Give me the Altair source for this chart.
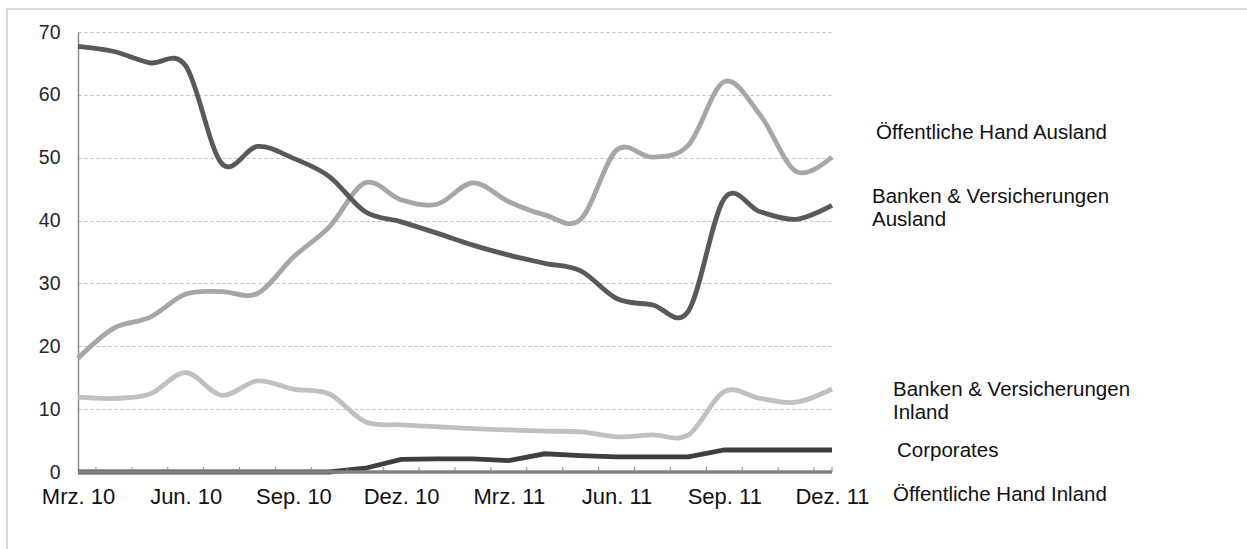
import altair as alt
import pandas as pd

# ---- data ----
months = ["Mrz. 10", "Apr. 10", "Mai. 10", "Jun. 10", "Jul. 10", "Aug. 10", "Sep. 10",
          "Okt. 10", "Nov. 10", "Dez. 10", "Jan. 11", "Feb. 11", "Mrz. 11", "Apr. 11",
          "Mai. 11", "Jun. 11", "Jul. 11", "Aug. 11", "Sep. 11", "Okt. 11", "Nov. 11", "Dez. 11"]

oeff_ausland = [18.1, 22.9, 24.6, 28.3, 28.7, 28.4, 34.2, 39.0, 46.0, 43.3, 42.6,
                46.0, 43.0, 40.9, 40.2, 51.2, 50.1, 52.0, 62.1, 56.8, 47.8, 50.1]
banken_ausland = [67.7, 66.9, 65.1, 64.6, 49.1, 51.8, 49.9, 47.0, 41.4, 39.8, 38.0,
                  36.1, 34.5, 33.2, 32.0, 27.6, 26.6, 25.6, 43.5, 41.4, 40.2, 42.4]
banken_inland = [11.9, 11.7, 12.4, 15.8, 12.2, 14.5, 13.2, 12.4, 8.0, 7.5, 7.2,
                 6.9, 6.7, 6.5, 6.4, 5.6, 5.9, 5.9, 12.8, 11.7, 11.1, 13.2]
corporates = [0, 0, 0, 0, 0, 0, 0, 0, 0.6, 2.0, 2.1,
              2.1, 1.8, 2.9, 2.6, 2.4, 2.4, 2.4, 3.5, 3.5, 3.5, 3.5]
oeff_inland = [0, 0, 0, 0, 0, 0, 0, 0, 0, 0, 0,
               0, 0, 0, 0, 0, 0, 0, 0, 0, 0, 0]

x_label_values = [0, 3, 6, 9, 12, 15, 18, 21]
y_tick_values = [0, 10, 20, 30, 40, 50, 60, 70]
minor_ticks = [0.5, 1.5, 2.5, 3.5, 4.5, 5.5, 6.5, 7.5, 8.5, 9.5, 10.5,
               11.5, 12.5, 13.5, 14.5, 15.5, 16.5, 17.5, 18.5, 19.5, 20.5, 21]

FONT = "Liberation Sans"
W, H = 754, 440

month_js = "[" + ",".join("'" + m + "'" for m in months) + "]"

X = alt.X("m:Q",
          scale=alt.Scale(domain=[0, 21], nice=False, zero=False),
          axis=alt.Axis(values=x_label_values, labelExpr=month_js + "[round(datum.value)]",
                        grid=False, domain=False, ticks=False, labelPadding=14,
                        labelFontSize=22, labelColor="#111111", labelFont=FONT,
                        labelFlush=False, title=None))
Y = alt.Y("v:Q",
          scale=alt.Scale(domain=[0, 70], nice=False),
          axis=alt.Axis(values=y_tick_values, grid=True, gridDash=[3, 3], gridColor="#bdbdbd",
                        gridWidth=1, domain=True, domainColor="#8c8c8c", domainWidth=1.5,
                        ticks=False, labelPadding=18, labelFontSize=19.5, labelColor="#262626",
                        labelFont=FONT, title=None))


def line_layer(values, color, width, interp):
    df = pd.DataFrame({"m": list(range(len(values))), "v": values})
    return alt.Chart(df).mark_line(color=color, strokeWidth=width, interpolate=interp).encode(x=X, y=Y)


one = pd.DataFrame({"a": [0]})

border = alt.Chart(one).mark_rect(fillOpacity=0, stroke="#d9d9d9", strokeWidth=2).encode(
    x=alt.value(-71), x2=alt.value(1182), y=alt.value(-23), y2=alt.value(530))

ticks = alt.Chart(pd.DataFrame({"m": minor_ticks})).mark_rule(color="#8c8c8c", strokeWidth=1).encode(
    x=X, y=alt.value(H - 5), y2=alt.value(H))

layers = [
    border,
    line_layer(oeff_ausland, "#a6a6a6", 4.8, "cardinal"),
    line_layer(banken_inland, "#c0c0c0", 4.8, "cardinal"),
    line_layer(banken_ausland, "#595959", 4.8, "cardinal"),
    line_layer(corporates, "#3f3f3f", 4.8, "linear"),
    ticks,
    line_layer(oeff_inland, "#828282", 3.5, "linear"),
]

annotations = [
    ("Öffentliche Hand Ausland", 798, 101),
    ("Banken & Versicherungen", 794, 165),
    ("Ausland", 794, 188),
    ("Banken & Versicherungen", 815, 358),
    ("Inland", 815, 381),
    ("Corporates", 819, 419),
    ("Öffentliche Hand Inland", 815, 463),
]
for txt, px, py in annotations:
    layers.append(
        alt.Chart(one).mark_text(text=txt, align="left", baseline="middle", font=FONT,
                                 fontSize=20.5, color="#111111").encode(x=alt.value(px), y=alt.value(py))
    )

chart = alt.layer(*layers).properties(
    width=W, height=H,
    padding={"left": 78, "top": 32, "right": 415, "bottom": 77},
    autosize="none",
    background="white",
).configure_view(stroke=None)

chart.save("out.html", embed_options={"renderer": "svg", "actions": False})
